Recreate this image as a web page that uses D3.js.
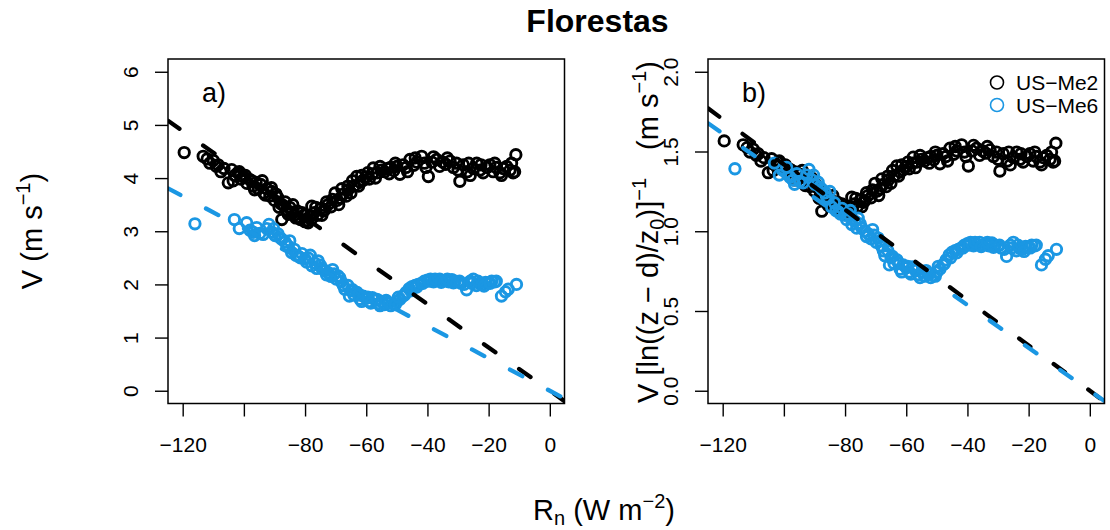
<!DOCTYPE html>
<meta charset="utf-8">
<style>
body { margin: 0; background: #fff; }
svg text { font-family: "Liberation Sans", Arial, Helvetica, sans-serif; fill: #000; }
</style>
<svg width="1110" height="530"></svg>
<script src="https://d3js.org/d3.v7.min.js"></script>
<script>

var siteNames = ["US\u2212Me2", "US\u2212Me6"];
var siteColors = ["#000000", "#1b97e3"];

// net radiation bins (W m-2) and mean wind speed (m s-1), US-Me2
var me2Rn = [-119.5, -113.3, -112.0, -111.1, -110.0, -109.0, -108.4, -107.5, -106.5, -105.1,
  -104.0, -103.0, -102.0, -101.0, -100.0, -99.0, -98.0, -97.0, -96.0, -95.3,
  -94.5, -93.5, -92.5, -91.5, -90.9, -90.0, -89.0, -88.0, -87.6, -87.0,
  -86.0, -85.0, -84.4, -83.5, -82.5, -82.2, -81.5, -80.5, -79.5, -79.0,
  -78.5, -77.8, -77.0, -76.0, -75.0, -74.0, -73.5, -72.5, -71.5, -70.2,
  -69.5, -68.5, -67.5, -66.5, -65.9, -65.0, -64.0, -63.1, -62.0, -61.0,
  -60.0, -59.0, -58.0, -57.7, -56.5, -55.0, -54.0, -53.0, -52.0, -51.0,
  -50.0, -49.0, -48.0, -47.0, -45.7, -44.5, -43.5, -41.9, -41.0, -39.7,
  -38.5, -37.0, -36.0, -35.0, -34.0, -32.6, -31.5, -30.5, -29.4, -28.3,
  -27.0, -26.0, -25.0, -23.9, -22.8, -21.8, -20.5, -19.6, -18.5, -17.5,
  -16.3, -15.2, -14.1, -13.0, -12.0, -11.5, -11.1,
  -103.5, -101.5, -99.5, -97.5, -96.5, -94.0, -93.0, -91.0, -89.5, -88.5,
  -86.5, -85.5, -84.0, -83.0, -81.0, -80.0, -78.0, -76.5, -74.5, -73.0,
  -71.0, -69.0, -68.0, -66.0, -64.5, -62.5, -61.5, -59.5, -57.0, -55.5,
  -52.5, -50.5, -46.5, -44.0, -40.5, -38.0, -33.5, -30.0, -26.5, -22.5,
  -18.0, -15.8, -12.5];
var me2V = [4.48, 4.41, 4.36, 4.28, 4.33, 4.22, 4.25, 4.12, 4.18, 3.91,
  4.16, 4.05, 4.10, 3.98, 4.02, 3.90, 3.97, 3.85, 3.92, 3.80,
  3.88, 3.72, 3.80, 3.66, 3.75, 3.58, 3.64, 3.52, 3.22, 3.48,
  3.40, 3.45, 3.36, 3.30, 3.38, 3.26, 3.22, 3.30, 3.20, 3.16,
  3.28, 3.47, 3.35, 3.30, 3.42, 3.38, 3.41, 3.50, 3.46, 3.72,
  3.58, 3.62, 3.70, 3.66, 3.78, 3.72, 3.85, 4.03, 3.92, 3.96,
  4.02, 3.98, 4.08, 4.19, 4.10, 4.15, 4.12, 4.18, 4.20, 4.14,
  4.22, 4.07, 4.25, 4.20, 4.35, 4.24, 4.30, 4.41, 4.28, 4.03,
  4.30, 4.35, 4.22, 4.30, 4.26, 4.32, 4.20, 4.28, 3.94, 4.25,
  4.12, 4.05, 4.18, 4.28, 4.15, 4.10, 4.20, 4.25, 4.12, 4.20,
  4.10, 4.18, 4.22, 4.15, 4.10, 4.12, 4.44,
  3.95, 4.12, 4.05, 3.95, 3.78, 3.95, 3.68, 3.82, 3.70, 3.45,
  3.55, 3.32, 3.50, 3.25, 3.35, 3.18, 3.22, 3.45, 3.30, 3.55,
  3.60, 3.50, 3.80, 3.85, 3.95, 3.85, 4.05, 4.10, 4.00, 4.22,
  4.08, 4.28, 4.12, 4.38, 4.20, 4.40, 4.38, 4.15, 4.28, 4.25,
  4.28, 4.05, 4.28];

// US-Me6
var me6Rn = [-116.0, -103.1, -101.5, -99.1, -98.0, -97.0, -95.8, -94.8, -93.7, -92.5,
  -91.8, -90.8, -89.8, -88.8, -87.6, -86.5, -85.5, -84.4, -83.5, -82.2,
  -81.0, -80.0, -79.0, -77.8, -76.8, -75.7, -74.5, -73.5, -72.4, -71.5,
  -70.5, -69.2, -68.2, -67.0, -66.0, -65.0, -64.0, -63.0, -62.0, -61.0,
  -60.0, -59.0, -58.0, -57.0, -56.0, -55.0, -54.0, -53.0, -52.0, -51.0,
  -50.0, -49.0, -48.0, -47.0, -46.0, -45.0, -44.0, -43.0, -42.0, -41.0,
  -40.0, -39.0, -38.0, -37.0, -36.0, -35.0, -34.0, -33.0, -32.0, -31.0,
  -30.0, -29.0, -28.0, -27.2, -26.0, -25.0, -24.0, -23.0, -22.0, -21.0,
  -20.0, -19.0, -18.0, -15.8, -14.5, -13.6, -10.9,
  -96.5, -90.3, -88.2, -86.0, -85.0, -83.0, -81.5, -79.5, -78.3, -76.2,
  -75.0, -73.0, -71.0, -69.8, -68.6, -67.5, -65.5, -64.5, -62.5, -61.5,
  -59.5, -58.5, -56.5, -55.5, -53.5, -52.5, -50.5, -49.5, -47.5, -45.5,
  -43.5, -41.5, -39.5, -37.5, -35.5, -33.5, -31.5, -29.5, -25.5, -23.5,
  -21.5, -19.5, -17.5];
var me6V = [3.14, 3.22, 3.05, 3.16, 3.02, 2.98, 3.07, 2.96, 2.94, 3.05,
  3.13, 2.98, 2.92, 2.95, 2.85, 2.80, 2.72, 2.60, 2.66, 2.53,
  2.58, 2.48, 2.50, 2.35, 2.40, 2.44, 2.30, 2.26, 2.22, 2.15,
  2.20, 2.16, 2.05, 1.91, 1.98, 1.88, 1.80, 1.85, 1.72, 1.78,
  1.74, 1.68, 1.75, 1.70, 1.64, 1.68, 1.62, 1.66, 1.60, 1.63,
  1.68, 1.72, 1.78, 1.85, 1.92, 1.96, 1.98, 2.00, 2.02, 2.06,
  2.08, 2.10, 2.05, 2.07, 2.10, 2.06, 2.08, 2.05, 2.09, 2.06,
  2.05, 2.02, 2.00, 1.90, 2.06, 2.10, 1.98, 2.02, 2.00, 2.04,
  2.03, 2.06, 2.05, 1.78, 1.86, 1.91, 2.00,
  2.92, 3.05, 2.88, 2.74, 2.82, 2.55, 2.50, 2.42, 2.55, 2.30,
  2.36, 2.18, 2.28, 2.10, 2.12, 1.98, 1.78, 1.90, 1.80, 1.68,
  1.76, 1.65, 1.72, 1.60, 1.70, 1.65, 1.62, 1.76, 1.80, 1.88,
  1.95, 2.02, 2.06, 2.10, 2.04, 2.10, 2.03, 2.06, 2.02, 2.06,
  1.97, 2.02, 2.06];

// ln((z - d)/z0) of each site, used for panel b
var lnFactor = [2.86, 2.256];

// slopes of the fitted lines through the origin
var slopeA = [-0.0407, -0.0305];
var slopeB = [-0.01419, -0.01344];

var xTicks = [-120, -100, -80, -60, -40, -20, 0];
var xTickLabels = ["\u2212120", "", "\u221280", "\u221260", "\u221240", "\u221220", "0"];
var yTicksA = [0, 1, 2, 3, 4, 5, 6];
var yTickLabelsA = ["0", "1", "2", "3", "4", "5", "6"];
var yTicksB = [0, 0.5, 1, 1.5, 2];
var yTickLabelsB = ["0.0", "0.5", "1.0", "1.5", "2.0"];

var svg = d3.select("svg");
var top_ = 59, bottom = 403.5;

function drawPanel(p) {
  var x = d3.scaleLinear().domain([-124.8, 4.8]).range([p.left, p.right]);
  var y = d3.scaleLinear().domain(p.yDomain).range([bottom, top_]);

  var g = svg.append("g");

  svg.append("clipPath").attr("id", "clip" + p.id)
    .append("rect")
      .attr("x", p.left).attr("y", top_)
      .attr("width", p.right - p.left).attr("height", bottom - top_);

  var plot = g.append("g").attr("clip-path", "url(#clip" + p.id + ")");

  var series = [
    { rn: me2Rn, v: me2V, k: 0 },
    { rn: me6Rn, v: me6V, k: 1 }
  ];

  series.forEach(function(s) {
    plot.append("g").selectAll("circle")
      .data(s.rn.map(function(r, i) { return [r, p.scaleV ? s.v[i] / lnFactor[s.k] : s.v[i]]; }))
      .enter().append("circle")
        .attr("cx", function(d) { return x(d[0]); })
        .attr("cy", function(d) { return y(d[1]); })
        .attr("r", 5.2)
        .style("fill", "none")
        .style("stroke", siteColors[s.k])
        .style("stroke-width", 2.9);
  });

  var line = d3.line().x(function(d) { return x(d[0]); }).y(function(d) { return y(d[1]); });
  p.slopes.forEach(function(b, k) {
    plot.append("path")
      .attr("d", line(x.domain().map(function(r) { return [r, b * r]; })))
      .style("fill", "none")
      .style("stroke", siteColors[k])
      .style("stroke-width", 4.3)
      .style("stroke-linecap", "round")
      .style("stroke-dasharray", "14,29");
  });

  // axes
  var xa = g.append("g").attr("transform", "translate(0," + bottom + ")")
    .call(d3.axisBottom(x).tickValues(xTicks).tickSize(13)
      .tickFormat(function(d, i) { return xTickLabels[i]; }));
  xa.select(".domain").remove();
  xa.selectAll("line").style("stroke-width", 1.4);
  xa.selectAll("text").attr("y", 48).attr("dy", null)
    .style("font-size", "21px").style("font-family", null);

  var ya = g.append("g").attr("transform", "translate(" + p.left + ",0)")
    .call(d3.axisLeft(y).tickValues(p.yTicks).tickSize(13)
      .tickFormat(function(d, i) { return p.yTickLabels[i]; }));
  ya.select(".domain").remove();
  ya.selectAll("line").style("stroke-width", 1.4);
  ya.selectAll("text").attr("x", null).attr("dy", null)
    .attr("text-anchor", "middle")
    .attr("transform", "translate(-30,0) rotate(-90)")
    .style("font-size", "21px").style("font-family", null);

  g.append("rect")
    .attr("x", p.left).attr("y", top_)
    .attr("width", p.right - p.left).attr("height", bottom - top_)
    .style("fill", "none").style("stroke", "#000").style("stroke-width", 1.5);

  g.append("text")
    .attr("x", p.left + 34).attr("y", 101.5)
    .style("font-size", "27px")
    .text(p.label);
}

drawPanel({ id: "a", left: 168, right: 564.5, yDomain: [-0.24, 6.24],
  yTicks: yTicksA, yTickLabels: yTickLabelsA, slopes: slopeA, scaleV: false, label: "a)" });
drawPanel({ id: "b", left: 708, right: 1104.5, yDomain: [-0.08, 2.08],
  yTicks: yTicksB, yTickLabels: yTickLabelsB, slopes: slopeB, scaleV: true, label: "b)" });

// legend
siteNames.forEach(function(n, i) {
  svg.append("circle")
    .attr("cx", 997).attr("cy", 82.5 + i * 22.5).attr("r", 6.5)
    .style("fill", "none").style("stroke", siteColors[i]).style("stroke-width", 1.6);
  svg.append("text")
    .attr("x", 1016).attr("y", 90 + i * 22.5)
    .style("font-size", "21px")
    .text(n);
});

// titles
svg.append("text")
  .attr("x", 597.5).attr("y", 32)
  .attr("text-anchor", "middle")
  .style("font-size", "32px").style("font-weight", "bold")
  .text("Florestas");

var xt = svg.append("text")
  .attr("x", 604).attr("y", 520)
  .attr("text-anchor", "middle")
  .style("font-size", "29px");
xt.append("tspan").text("R");
xt.append("tspan").attr("dy", 5).style("font-size", "20px").text("n");
xt.append("tspan").attr("dy", -5).text(" (W m");
xt.append("tspan").attr("dy", -12).style("font-size", "20px").text("\u22122");
xt.append("tspan").attr("dy", 12).text(")");

var yta = svg.append("text")
  .attr("transform", "translate(42,231) rotate(-90)")
  .attr("text-anchor", "middle")
  .style("font-size", "29px");
yta.append("tspan").text("V (m s");
yta.append("tspan").attr("dy", -12).style("font-size", "20px").text("\u22121");
yta.append("tspan").attr("dy", 12).text(")");

var ytb = svg.append("text")
  .attr("transform", "translate(658,232) rotate(-90)")
  .attr("text-anchor", "middle")
  .style("font-size", "29px");
ytb.append("tspan").text("V [ln((z \u2212 d)/z");
ytb.append("tspan").attr("dy", 6).style("font-size", "20px").text("0");
ytb.append("tspan").attr("dy", -6).text(")]");
ytb.append("tspan").attr("dy", -12).style("font-size", "20px").text("\u22121");
ytb.append("tspan").attr("dy", 12).attr("dx", 28).text("(m s");
ytb.append("tspan").attr("dy", -12).style("font-size", "20px").text("\u22121");
ytb.append("tspan").attr("dy", 12).text(")");

</script>
